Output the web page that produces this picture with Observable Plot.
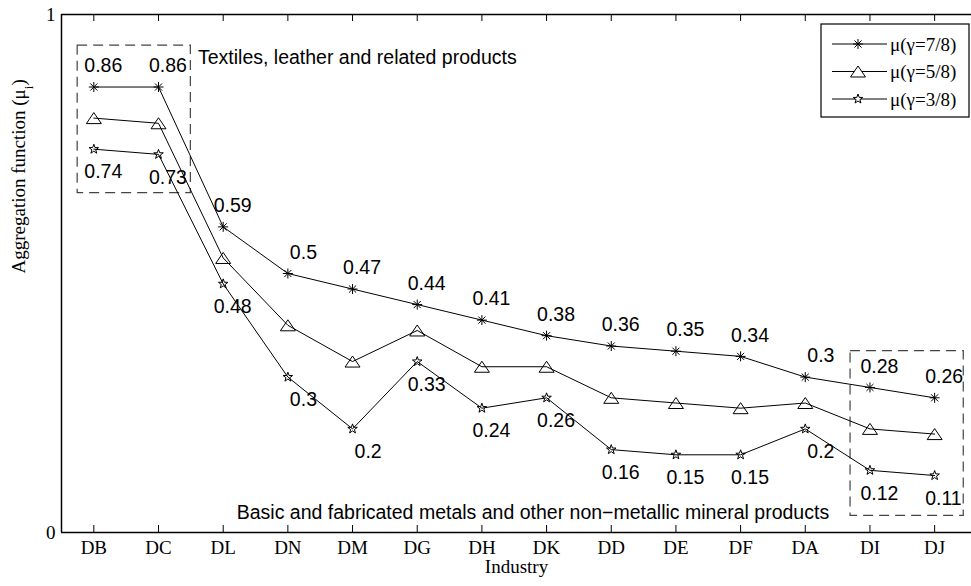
<!DOCTYPE html>
<html>
<head>
<meta charset="utf-8">
<script src="https://cdn.jsdelivr.net/npm/d3@7"></script>
<script src="https://cdn.jsdelivr.net/npm/@observablehq/plot@0.6"></script>
<style>
  html, body { margin: 0; padding: 0; background: #fff; }
  #chart { width: 971px; height: 586px; }
</style>
</head>
<body>
<div id="chart"></div>
<script>
// ---- data ----
const industries = ["DB","DC","DL","DN","DM","DG","DH","DK","DD","DE","DF","DA","DI","DJ"];
const mu78 = [0.86,0.86,0.59,0.50,0.47,0.44,0.41,0.38,0.36,0.35,0.34,0.30,0.28,0.26];
const mu58 = [0.80,0.79,0.53,0.40,0.33,0.39,0.32,0.32,0.26,0.25,0.24,0.25,0.20,0.19];
const mu38 = [0.74,0.73,0.48,0.30,0.20,0.33,0.24,0.26,0.16,0.15,0.15,0.20,0.12,0.11];
const seriesNames = ["μ(γ=7/8)", "μ(γ=5/8)", "μ(γ=3/8)"];
const yTicks = [0, 1];
const xLabel = "Industry";
const yLabel = "Aggregation function (μi)";
// annotation boxes (data units: x = industry index, y = value)
const boxes = [
  {x1: -0.25, x2: 1.5, y1: 0.655, y2: 0.94},
  {x1: 11.7, x2: 13.45, y1: 0.032, y2: 0.35}
];
const notes = [
  {x: 1.61, y: 0.917, text: "Textiles, leather and related products"},
  {x: 2.21, y: 0.0386, text: "Basic and fabricated metals and other non\u2212metallic mineral products"}
];

// ---- symbols (MATLAB-like markers) ----
const asterisk8 = {draw(ctx, size) {
  const r = Math.sqrt(size / Math.PI), a = r * 1.0, d = a * Math.SQRT1_2;
  ctx.moveTo(-a, 0); ctx.lineTo(a, 0);
  ctx.moveTo(0, -a); ctx.lineTo(0, a);
  ctx.moveTo(-d, -d); ctx.lineTo(d, d);
  ctx.moveTo(-d, d); ctx.lineTo(d, -d);
}};
const triangleUp = {draw(ctx, size) {
  const r = Math.sqrt(size / Math.PI);
  ctx.moveTo(0, -1.1 * r); ctx.lineTo(1.5 * r, 1.1 * r); ctx.lineTo(-1.5 * r, 1.1 * r); ctx.closePath();
}};
const pentagram = {draw(ctx, size) {
  const R = Math.sqrt(size / Math.PI), ri = R * 0.4;
  for (let k = 0; k < 10; k++) {
    const rr = k % 2 ? ri : R, ang = -Math.PI / 2 + k * Math.PI / 5;
    const px = rr * Math.cos(ang), py = rr * Math.sin(ang);
    k ? ctx.lineTo(px, py) : ctx.moveTo(px, py);
  }
  ctx.closePath();
}};
const symbols = [asterisk8, triangleUp, pentagram];

const mk = vals => industries.map((c, i) => ({i, c, v: vals[i], label: String(vals[i])}));
const s78 = mk(mu78), s58 = mk(mu58), s38 = mk(mu38);
const idx = d3.range(industries.length);

const W = 971, H = 586, mL = 61, mT = 14, mR = 0, mB = 54;
const innerH = H - mT - mB;
const sans = "'Liberation Sans', Arial, Helvetica, sans-serif";
const serif = "'Liberation Serif', 'Times New Roman', serif";

const isLong = d => d.label.length > 3;

const svg = Plot.plot({
  width: W, height: H,
  marginLeft: mL, marginTop: mT, marginRight: mR, marginBottom: mB,
  style: {background: "#fff", overflow: "visible"},
  x: {type: "linear", domain: [-0.5, 13.57], axis: null},
  y: {domain: [0, 1], axis: null},
  marks: [
    // frame (left, top, bottom)
    Plot.ruleY(yTicks, {stroke: "black", strokeWidth: 1.5}),
    Plot.ruleX([-0.5], {stroke: "black", strokeWidth: 1.5}),
    // inward ticks
    Plot.tickX(idx, {x: d => d, insetTop: innerH - 7, stroke: "black", strokeWidth: 1}),
    Plot.tickX(idx, {x: d => d, insetBottom: innerH - 7, stroke: "black", strokeWidth: 1}),
    // axes labels
    Plot.axisX({ticks: idx, tickFormat: i => industries[i], tickSize: 0, tickPadding: 8,
      fontFamily: serif, fontSize: 19, fill: "black", label: null}),
    Plot.axisY({ticks: yTicks, tickFormat: d => String(d), tickSize: 0, tickPadding: 6,
      fontFamily: serif, fontSize: 19, fill: "black", label: null}),
    Plot.text([xLabel], {frameAnchor: "bottom", dy: 40, fontFamily: serif, fontSize: 19, fill: "black"}),
    Plot.text([yLabel], {frameAnchor: "left", dx: -43, rotate: -90, fontFamily: serif, fontSize: 19, fill: "black"}),
    // annotation boxes
    Plot.rect(boxes, {x1: "x1", x2: "x2", y1: "y1", y2: "y2", fill: "none", stroke: "#444",
      strokeWidth: 1.2, strokeDasharray: "10,6"}),
    Plot.text(notes, {x: "x", y: "y", text: "text", textAnchor: "start", fontFamily: sans, fontSize: 19.5, fill: "black"}),
    // series
    ...[s78, s58, s38].flatMap((s, k) => [
      Plot.line(s, {x: "i", y: "v", stroke: "black", strokeWidth: 1}),
      Plot.dot(s, {x: "i", y: "v", symbol: symbols[k], r: 5, stroke: "black", fill: "none", strokeWidth: 1})
    ]),
    // value labels
    Plot.text(s78, {filter: isLong, x: "i", y: "v", text: "label", textAnchor: "start", dx: -9.5, dy: -21, fontFamily: sans, fontSize: 19.5, fill: "black"}),
    Plot.text(s78, {filter: d => !isLong(d), x: "i", y: "v", text: "label", textAnchor: "start", dx: 2, dy: -21, fontFamily: sans, fontSize: 19.5, fill: "black"}),
    Plot.text(s38, {filter: isLong, x: "i", y: "v", text: "label", textAnchor: "start", dx: -9.5, dy: 23, fontFamily: sans, fontSize: 19.5, fill: "black"}),
    Plot.text(s38, {filter: d => !isLong(d), x: "i", y: "v", text: "label", textAnchor: "start", dx: 2, dy: 23, fontFamily: sans, fontSize: 19.5, fill: "black"})
  ]
});

// subscript in y label
d3.select(svg).selectAll("text").filter(function () { return this.textContent === yLabel; })
  .each(function () {
    const t = d3.select(this);
    t.text(null);
    t.append("tspan").text("Aggregation function (μ");
    t.append("tspan").attr("baseline-shift", "sub").attr("font-size", "13px").text("i");
    t.append("tspan").text(")");
  });

// legend
const lg = d3.select(svg).append("g").attr("text-anchor", "start");
const lx = 821, ly = 24, lw = 148, lh = 93;
lg.append("rect").attr("x", lx).attr("y", ly).attr("width", lw).attr("height", lh)
  .attr("fill", "white").attr("stroke", "black").attr("stroke-width", 1.2);
seriesNames.forEach((name, k) => {
  const cy = ly + 20 + k * 27.5;
  lg.append("line").attr("x1", lx + 11).attr("x2", lx + 66).attr("y1", cy).attr("y2", cy)
    .attr("stroke", "black").attr("stroke-width", 1);
  lg.append("path").attr("transform", `translate(${lx + 37},${cy})`)
    .attr("d", d3.symbol(symbols[k], 25 * Math.PI)())
    .attr("fill", "white").attr("stroke", "black").attr("stroke-width", 1);
  lg.append("text").attr("x", lx + 69).attr("y", cy).attr("dy", "0.35em")
    .attr("text-anchor", "start")
    .attr("font-family", serif).attr("font-size", 19).attr("fill", "black").text(name);
});

document.getElementById("chart").appendChild(svg);
</script>
</body>
</html>
